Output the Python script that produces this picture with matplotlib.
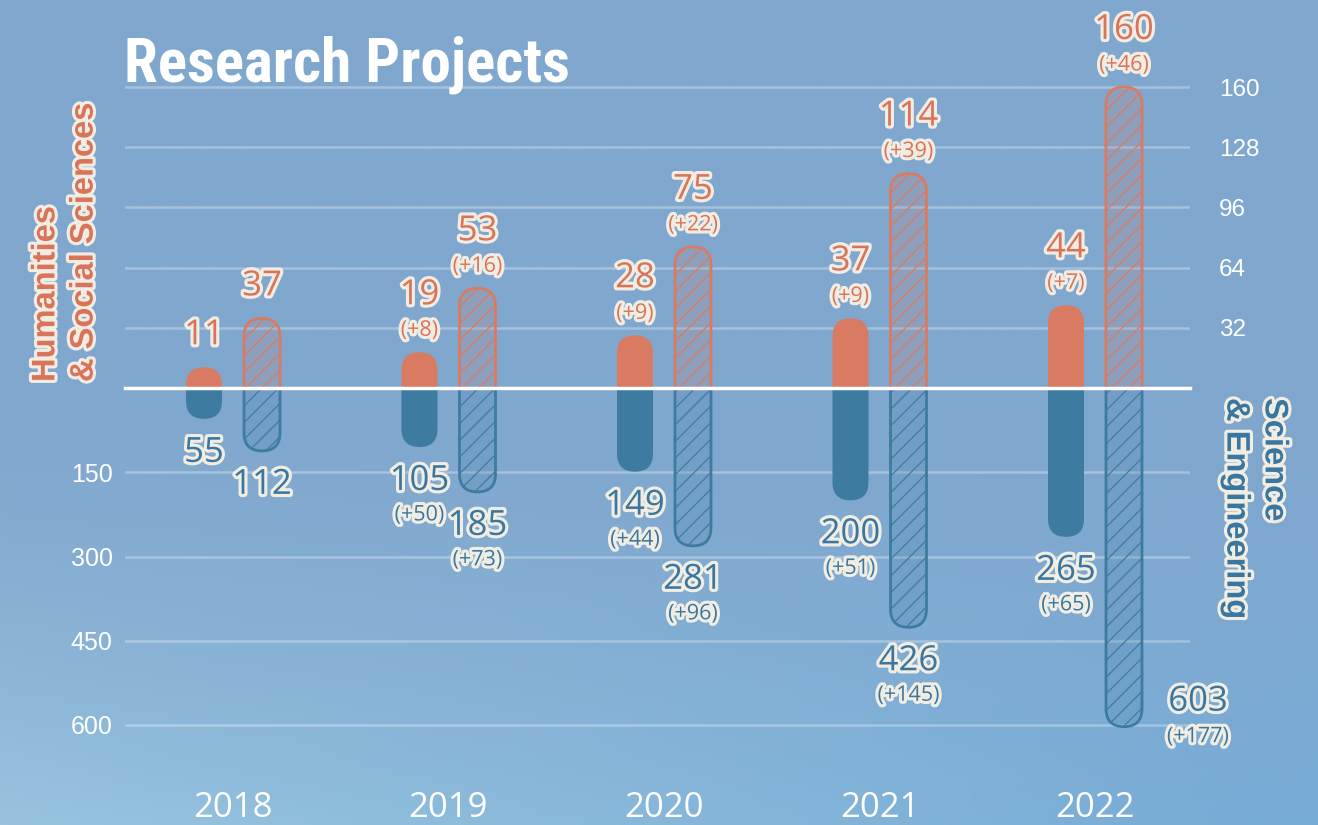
import numpy as np
import matplotlib
matplotlib.use("Agg")
import matplotlib.pyplot as plt
from matplotlib.patches import FancyBboxPatch, BoxStyle
import matplotlib.patheffects as pe
from matplotlib.colors import to_rgb, to_rgba
from matplotlib import font_manager as fm

# ---------------- data ----------------
years = ['2018', '2019', '2020', '2021', '2022']
hss_new = [11, 19, 28, 37, 44]
hss_new_delta = [None, 8, 9, 9, 7]
hss_total = [37, 53, 75, 114, 160]
hss_total_delta = [None, 16, 22, 39, 46]
se_new = [55, 105, 149, 200, 265]
se_new_delta = [None, 50, 44, 51, 65]
se_total = [112, 185, 281, 426, 603]
se_total_delta = [None, 73, 96, 145, 177]
hss_ticks = [32, 64, 96, 128, 160]
se_ticks = [150, 300, 450, 600]
title = 'Research Projects'
hss_title = 'Humanities\n& Social Sciences'
se_title = 'Science\n& Engineering'

# ---------------- style ----------------
ORANGE = '#d87b62'
ORANGE_TXT = '#d9735a'
BLUE = '#3e7ba1'
BLUE_TXT = '#3a77a0'
CREAM = '#f1ede3'
plt.rcParams['hatch.linewidth'] = 0.9

names = {f.name for f in fm.fontManager.ttflist}
title_family, title_size = 'Roboto', 40
for fam, size in [('Roboto Condensed', 44), ('Liberation Sans Narrow', 44),
                  ('Open Sans Condensed', 44), ('Roboto', 40)]:
    if fam in names:
        title_family, title_size = fam, size
        break
NUM_FONT = 'Open Sans'
TICK_FONT = 'Liberation Sans'

W, H, DPI = 1318, 825, 100
fig = plt.figure(figsize=(W / DPI, H / DPI), dpi=DPI)

# background gradient
bg = fig.add_axes([0, 0, 1, 1], zorder=-10)
bg.set_axis_off()
tl = np.array(to_rgb('#80a7ce')); tr = np.array(to_rgb('#80a7ce'))
bl = np.array(to_rgb('#98c4df')); br = np.array(to_rgb('#76abd6'))
yy = np.linspace(0, 1, 200)[:, None, None]
xx = np.linspace(0, 1, 300)[None, :, None]
t = np.clip((yy - 0.45) / 0.55, 0, 1) ** 1.6
img = (1 - t) * ((1 - xx) * tl + xx * tr) + t * ((1 - xx) * bl + xx * br)
bg.imshow(img, aspect='auto', extent=[0, 1, 0, 1], origin='upper', interpolation='bilinear')
bg.set_xlim(0, 1); bg.set_ylim(0, 1)

# axes layout
L = 125 / W
AW = 1065 / W
zero_px = 388
bot_px = 770
top_px_per = (388 - 87) / 160
bot_px_per = (725 - 388) / 600
ax_top = fig.add_axes([L, 1 - zero_px / H, AW, zero_px / H])
ax_bot = fig.add_axes([L, 1 - bot_px / H, AW, (bot_px - zero_px) / H])
x0 = -(233 - 125) / 215.5
for ax in (ax_top, ax_bot):
    ax.set_xlim(x0, x0 + 1065 / 215.5)
    ax.patch.set_alpha(0)
    for s in ax.spines.values():
        s.set_visible(False)
    ax.set_axisbelow(True)
ax_top.set_ylim(0, zero_px / top_px_per)
ax_bot.set_ylim((bot_px - zero_px) / bot_px_per, 0)

# ticks & grids
ax_top.set_yticks(hss_ticks)
ax_top.yaxis.tick_right()
ax_top.set_xticks([])
ax_top.tick_params(axis='y', length=0, pad=21, labelsize=17.5, labelcolor='white')
ax_top.grid(axis='y', color='white', alpha=0.3, lw=1.8)
ax_bot.set_yticks(se_ticks)
ax_bot.tick_params(axis='y', length=0, pad=9, labelsize=18, labelcolor='white')
ax_bot.set_xticks(range(len(years)), years)
ax_bot.tick_params(axis='x', length=0, pad=15, labelsize=25, labelcolor='white')
ax_bot.grid(axis='y', color='white', alpha=0.3, lw=1.8)
for lab in ax_top.get_yticklabels() + ax_bot.get_yticklabels():
    lab.set_fontfamily(TICK_FONT)
for lab in ax_bot.get_xticklabels():
    lab.set_fontfamily(NUM_FONT)
ax_bot.axhline(0, color='white', lw=2.5, zorder=6, clip_on=False)


def px_scale(ax):
    inv = ax.transData.inverted()
    a = inv.transform((0, 0)); b = inv.transform((1, 1))
    return abs(b[0] - a[0]), abs(b[1] - a[1])


BW = 36
OFF = 29


def rounded_bar(ax, x, value, face, edge='none', hatch=None, lw=0):
    dx, dy = px_scale(ax)
    w = BW * dx
    aspect = dy / dx
    r = w / 2
    ext = r * aspect
    p = FancyBboxPatch((x - w / 2, -ext), w, value + ext,
                       boxstyle=BoxStyle.Round(pad=0, rounding_size=r),
                       mutation_aspect=aspect, facecolor=face, edgecolor=edge,
                       hatch=hatch, linewidth=lw, zorder=3)
    ax.add_patch(p)


stroke = [pe.withStroke(linewidth=4.5, foreground=CREAM)]


def label(ax, x, value, delta, color, up, dxpix=0, main_off=None, sub_off=None):
    sgn = 1 if up else -1
    if delta is None:
        mo = main_off if main_off is not None else (32 if up else 34)
    else:
        mo = main_off if main_off is not None else (57 if up else 34)
    ax.annotate(str(value), (x, value), xytext=(dxpix, sgn * mo), textcoords='offset pixels',
                ha='center', va='center', fontsize=25, color=color, family=NUM_FONT,
                path_effects=stroke, zorder=8, annotation_clip=False)
    if delta is not None:
        so = sub_off if sub_off is not None else (22 if up else 68)
        ax.annotate(f'(+{delta})', (x, value), xytext=(dxpix, sgn * so), textcoords='offset pixels',
                    ha='center', va='center', fontsize=15.5, color=color, family=NUM_FONT,
                    path_effects=stroke, zorder=8, annotation_clip=False)


dx_top, _ = px_scale(ax_top)
off = OFF * dx_top
for i in range(len(years)):
    xs, xh = i - off, i + off
    rounded_bar(ax_top, xs, hss_new[i], ORANGE)
    rounded_bar(ax_top, xh, hss_total[i], to_rgba(ORANGE, 0.16), edge=ORANGE, hatch='//', lw=2)
    rounded_bar(ax_bot, xs, se_new[i], BLUE)
    rounded_bar(ax_bot, xh, se_total[i], to_rgba(BLUE, 0.2), edge=BLUE, hatch='//', lw=2)
    label(ax_top, xs, hss_new[i], hss_new_delta[i], ORANGE_TXT, True)
    label(ax_top, xh, hss_total[i], hss_total_delta[i], ORANGE_TXT, True)
    label(ax_bot, xs, se_new[i], se_new_delta[i], BLUE_TXT, False)
    if se_total[i] == max(se_total):
        label(ax_bot, xh, se_total[i], se_total_delta[i], BLUE_TXT, False,
              dxpix=74, main_off=-25, sub_off=10)
    else:
        label(ax_bot, xh, se_total[i], se_total_delta[i], BLUE_TXT, False)

# titles
fig.text(124 / W, 1 - 82 / H, title, ha='left', va='baseline', color='white',
         fontsize=title_size, fontweight='bold', family=title_family)
fig.text(65 / W, 1 - 382 / H, hss_title, rotation=90, ha='center', va='bottom',
         multialignment='left', fontsize=23.5, fontweight='bold', color=ORANGE_TXT,
         family='Liberation Sans', linespacing=1.3, path_effects=stroke)
fig.text(1255 / W, 1 - 398 / H, se_title, rotation=270, ha='center', va='top',
         multialignment='left', fontsize=23.5, fontweight='bold', color=BLUE_TXT,
         family='Liberation Sans', linespacing=1.3, path_effects=stroke)

fig.savefig('out.png', dpi=DPI)
